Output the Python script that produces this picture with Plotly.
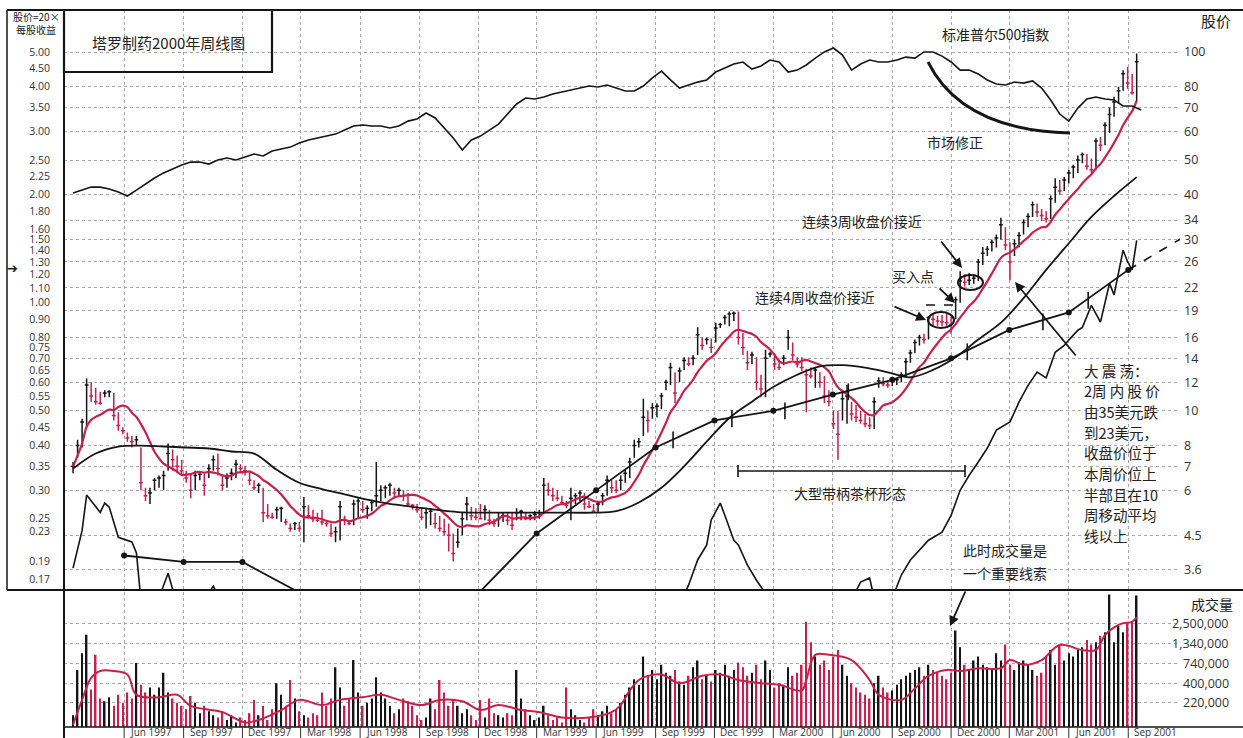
import plotly.graph_objects as go
import pandas as pd
import math

# ---------------- data ----------------
week0 = "1997-03-14"  # first weekly bar

closes = [7.0, 8.0, 9.3, 11.8, 11.0, 10.6, 10.5, 11.2, 11.3, 9.7,
          9.1, 8.8, 8.4, 8.2, 8.3, 6.3, 5.8, 5.9, 6.4, 6.5,
          6.6, 7.6, 7.3, 7.0, 6.8, 6.5, 6.0, 6.6, 6.65, 6.2,
          6.9, 7.3, 6.9, 6.2, 6.5, 6.7, 7.1, 6.9, 6.8, 6.4,
          6.1, 6.2, 5.2, 5.1, 5.05, 5.3, 5.35, 4.9, 4.7, 4.85,
          4.7, 5.4, 5.1, 5.0, 4.95, 4.9, 4.85, 4.55, 4.6, 5.4,
          4.95, 4.85, 5.5, 5.6, 5.3, 5.35, 5.55, 5.8, 6.0, 6.1,
          6.2, 5.9, 6.0, 5.8, 5.5, 5.45, 5.3, 5.05, 5.2, 5.25,
          4.85, 4.7, 4.6, 4.5, 4.0, 4.3, 5.0, 5.5, 5.1, 5.05,
          5.0, 5.3, 4.95, 4.85, 5.0, 5.1, 4.95, 4.8, 5.2, 5.25,
          5.0, 5.1, 5.15, 5.2, 6.2, 6.0, 5.8, 5.7, 5.55, 5.45,
          5.7, 5.8, 5.9, 5.5, 5.4, 5.25, 5.5, 5.8, 6.4, 6.1,
          6.0, 6.4, 6.7, 7.2, 8.0, 8.2, 9.6, 9.4, 10.2, 10.3,
          11.0, 12.0, 13.2, 11.2, 12.9, 13.8, 13.5, 14.0, 16.3, 15.2,
          15.8, 15.0, 17.0, 17.4, 18.2, 18.6, 18.7, 16.0, 15.0, 13.6,
          14.3, 12.0, 11.5, 14.0, 14.4, 13.5, 13.2, 14.0, 16.0, 14.3,
          13.5, 13.2, 12.6, 12.5, 13.0, 12.0, 11.0, 10.6, 9.2, 8.6,
          10.8, 11.0, 9.8, 9.6, 9.4, 9.2, 9.1, 10.6, 12.1, 11.9,
          11.8, 12.1, 12.2, 12.6, 13.7, 14.5, 15.5, 16.0, 15.8, 18.2,
          18.0, 17.8, 17.7, 17.6, 17.4, 20.4, 23.0, 22.8, 23.1, 23.4,
          26.0, 27.5, 28.2, 29.5, 30.3, 33.0, 29.0, 26.0, 29.2, 30.8,
          33.5, 34.8, 37.5, 35.8, 35.0, 34.3, 39.0, 42.0, 41.0, 44.0,
          46.0, 47.8, 50.0, 51.8, 48.0, 47.0, 56.5, 55.0, 62.5, 67.0,
          72.5, 78.0, 87.0, 82.0, 77.0, 94.0]

highs = [7.2, 8.3, 9.5, 12.3, 12.0, 11.6, 11.3, 11.4, 11.4, 11.2,
         9.9, 9.0, 8.7, 8.5, 8.5, 7.9, 6.1, 6.1, 6.5, 6.6,
         6.8, 8.1, 7.8, 7.5, 7.3, 6.8, 6.7, 6.8, 6.7, 6.7,
         7.1, 7.5, 7.6, 6.6, 6.7, 6.9, 7.3, 7.1, 7.0, 6.8,
         6.4, 6.3, 6.1, 5.5, 5.2, 5.4, 5.4, 5.0, 4.85, 4.9,
         4.9, 5.75, 5.45, 5.3, 5.2, 5.3, 4.95, 4.85, 4.75, 5.6,
         5.1, 4.95, 5.65, 5.75, 5.6, 5.45, 5.65, 7.2, 6.2, 6.2,
         6.3, 6.1, 6.1, 6.0, 5.9, 5.5, 5.5, 5.35, 5.35, 5.35,
         5.2, 5.1, 5.0, 4.85, 4.55, 4.7, 5.2, 5.75, 5.4, 5.35,
         5.5, 5.45, 5.3, 5.0, 5.2, 5.2, 5.2, 5.2, 5.35, 5.3,
         5.2, 5.15, 5.25, 5.3, 6.5, 6.3, 6.1, 6.0, 5.8, 5.6,
         6.1, 5.9, 6.0, 5.9, 5.6, 5.5, 5.6, 5.9, 6.6, 6.4,
         6.4, 6.6, 6.85, 7.4, 8.3, 8.4, 10.8, 10.0, 10.5, 10.5,
         11.2, 12.2, 13.6, 12.8, 13.2, 14.1, 14.1, 14.3, 17.1, 16.0,
         16.0, 15.9, 17.6, 17.6, 18.5, 18.9, 18.9, 18.9, 16.5, 14.7,
         14.6, 14.1, 12.6, 14.8, 14.6, 14.5, 13.9, 14.3, 16.8, 15.5,
         14.1, 14.1, 13.1, 13.2, 13.2, 12.8, 12.5, 11.4, 10.0, 10.0,
         11.4, 11.8, 10.6, 10.4, 10.0, 9.8, 9.6, 10.9, 12.4, 12.4,
         12.1, 12.3, 12.3, 12.8, 14.0, 14.8, 15.8, 16.3, 16.4, 18.3,
         18.7, 18.4, 18.5, 18.6, 18.3, 20.8, 24.5, 24.0, 24.2, 24.0,
         26.5, 28.6, 28.8, 30.0, 31.0, 34.5, 32.5, 29.5, 30.0, 31.5,
         34.2, 35.5, 38.3, 37.8, 36.5, 36.0, 39.8, 44.5, 44.0, 44.8,
         47.0, 48.5, 51.5, 52.5, 52.0, 50.5, 57.5, 58.0, 63.7, 70.0,
         75.0, 80.0, 89.0, 91.0, 87.0, 99.0]

lows = [6.7, 7.4, 7.9, 9.0, 10.6, 10.4, 10.4, 10.9, 10.9, 9.4,
        8.8, 8.6, 8.2, 7.9, 8.0, 6.0, 5.6, 5.5, 6.0, 6.1,
        6.0, 6.8, 6.8, 6.7, 6.6, 6.3, 5.7, 6.0, 6.4, 5.8,
        6.5, 6.8, 6.6, 6.0, 6.1, 6.4, 6.5, 6.7, 6.6, 6.2,
        6.0, 5.9, 4.9, 5.0, 5.0, 5.0, 4.9, 4.8, 4.6, 4.65,
        4.6, 4.3, 5.0, 4.9, 4.9, 4.8, 4.75, 4.45, 4.3, 4.35,
        4.8, 4.8, 4.8, 5.0, 5.2, 5.0, 5.25, 5.4, 5.6, 5.7,
        5.8, 5.7, 5.8, 5.6, 5.4, 5.3, 5.2, 4.95, 4.7, 4.8,
        4.7, 4.6, 4.5, 4.05, 3.8, 4.15, 4.5, 4.95, 4.95, 4.95,
        5.0, 4.95, 4.8, 4.75, 4.75, 4.9, 4.8, 4.65, 4.95, 4.95,
        4.95, 4.95, 4.95, 5.0, 5.2, 5.8, 5.6, 5.6, 5.5, 5.35,
        4.95, 5.5, 5.6, 5.3, 5.35, 5.2, 5.2, 5.45, 5.8, 5.9,
        5.9, 6.0, 6.3, 6.5, 7.4, 7.9, 8.5, 8.7, 9.5, 9.6,
        10.1, 11.4, 11.8, 10.5, 12.0, 13.0, 13.3, 13.4, 14.3, 14.8,
        15.3, 14.5, 15.5, 17.0, 17.4, 17.2, 17.8, 15.3, 14.3, 13.0,
        13.5, 11.4, 10.9, 10.9, 14.1, 13.0, 13.0, 13.4, 14.8, 13.8,
        13.2, 12.9, 9.9, 12.3, 11.6, 11.6, 10.5, 10.3, 8.9, 7.3,
        9.4, 9.2, 9.4, 9.3, 9.2, 9.0, 8.9, 8.9, 11.6, 11.7,
        11.6, 11.7, 11.8, 12.0, 12.4, 13.6, 14.5, 15.2, 15.4, 15.8,
        17.3, 17.2, 17.2, 17.0, 16.4, 18.0, 20.0, 22.2, 22.4, 22.6,
        23.0, 25.5, 27.0, 27.8, 28.5, 30.0, 28.0, 23.1, 27.0, 28.5,
        31.0, 32.5, 34.7, 34.7, 33.8, 33.5, 34.2, 38.0, 40.0, 41.0,
        43.0, 44.5, 46.0, 49.0, 47.0, 46.0, 47.0, 53.0, 55.0, 59.5,
        66.0, 72.0, 78.0, 79.0, 76.0, 73.0]

volume_k = [150, 600, 1000, 1750, 330, 950, 250, 230, 260, 200,
            280, 220, 300, 250, 740, 380, 300, 350, 280, 350,
            550, 300, 250, 220, 200, 180, 270, 220, 160, 200,
            170, 150, 140, 170, 130, 150, 120, 140, 130, 160,
            240, 150, 200, 130, 180, 400, 280, 200, 440, 250,
            170, 150, 140, 160, 150, 300, 200, 250, 650, 350,
            200, 250, 810, 300, 200, 220, 250, 480, 300, 250,
            200, 160, 180, 250, 230, 200, 150, 130, 140, 250,
            180, 440, 300, 200, 240, 200, 160, 180, 150, 130,
            240, 140, 250, 160, 150, 140, 160, 150, 600, 250,
            180, 150, 130, 140, 200, 150, 130, 140, 120, 350,
            180, 150, 130, 120, 140, 180, 150, 170, 200, 160,
            180, 220, 280, 350, 450, 380, 900, 500, 600, 450,
            700, 550, 500, 600, 420, 380, 500, 650, 800, 450,
            500, 420, 600, 550, 700, 500, 600, 750, 650, 500,
            550, 700, 450, 800, 600, 350, 400, 380, 650, 500,
            550, 700, 2600, 1400, 900, 700, 800, 600, 900, 1100,
            700, 500, 400, 350, 300, 280, 250, 400, 500, 350,
            300, 320, 380, 450, 500, 550, 600, 650, 500, 700,
            600, 550, 500, 450, 550, 2000, 1200, 700, 600, 800,
            900, 700, 650, 600, 1000, 800, 1300, 700, 600, 750,
            800, 700, 600, 500, 550, 900, 1100, 700, 1300, 800,
            1000, 900, 1100, 1200, 1500, 1300, 1400, 1700, 1900, 6000,
            1400, 2300, 1900, 2500, 2600, 5800]

# long (40-week) moving average, read every 5 weeks
ma_long_every5 = [6.9, 7.6, 7.95, 8.0, 7.95, 7.9, 7.85, 7.7, 7.6, 6.85,
                  6.3, 6.05, 5.85, 5.65, 5.5, 5.4, 5.3, 5.22, 5.2, 5.2,
                  5.2, 5.2, 5.2, 5.2, 5.25, 5.55, 6.1, 7.0, 8.2, 9.55,
                  10.6, 11.7, 12.6, 13.3, 13.4, 13.2, 12.8, 12.4, 13.0, 14.1,
                  15.8, 17.6, 20.6, 24.7, 29.3, 34.7, 39.7, 44.8]

# S&P 500 index, read every 2 weeks
sp500 = [790, 805, 820, 820, 810, 795, 775, 805, 836, 866,
         892, 912, 932, 947, 947, 937, 958, 968, 958, 973,
         988, 978, 1003, 1013, 1023, 1044, 1059, 1069, 1079, 1089,
         1110, 1130, 1135, 1130, 1130, 1120, 1130, 1155, 1166, 1196,
         1171, 1120, 1069, 1008, 1059, 1079, 1110, 1140, 1191, 1242,
         1272, 1267, 1277, 1293, 1303, 1313, 1323, 1333, 1328, 1338,
         1323, 1308, 1308, 1333, 1374, 1409, 1364, 1323, 1338, 1353,
         1364, 1404, 1425, 1445, 1455, 1419, 1435, 1465, 1455, 1404,
         1414, 1440, 1475, 1506, 1526, 1490, 1414, 1445, 1465, 1455,
         1455, 1465, 1480, 1475, 1506, 1506, 1485, 1455, 1414, 1414,
         1394, 1364, 1343, 1338, 1353, 1348, 1359, 1323, 1262, 1191,
         1155, 1221, 1267, 1277, 1267, 1262, 1232, 1232, 1211]

# relative-strength line (week index, value)
rs_week = [0, 2, 3, 5, 6, 7, 8, 10, 12, 13, 14, 15, 18, 21, 23, 28, 31, 33,
           134, 136, 138, 140, 141, 143, 144, 146, 147, 149, 151, 154,
           172, 174, 176, 177, 181, 183, 185, 187, 189, 192, 194, 196, 198,
           200, 202, 204, 207, 209, 211, 213, 215, 217, 219, 220, 222, 223,
           225, 227, 229, 230, 232, 233, 234, 235]
rs_val = [3.8, 10.3, 16.4, 14.3, 13.4, 15.0, 14.3, 9.1, 8.6, 8.3, 6.4, -1.7, -3.4, 2.9, -2.6, -2.6, 0.7, -2.6,
          -2.6, 0.9, 5.2, 7.8, 12.1, 15.0, 12.9, 8.6, 7.8, 4.3, 1.7, -1.7,
          -1.7, 1.4, 2.1, -1.4, -1.4, 2.6, 5.2, 6.9, 8.6, 10.0, 12.9, 17.2, 19.8,
          22.1, 24.5, 27.6, 29.0, 32.4, 35.3, 37.6, 36.6, 41.0, 42.2, 43.1, 44.8, 45.3,
          49.1, 46.2, 52.9, 50.9, 58.6, 56.6, 55.2, 60.3]

# volume moving average (week index, thousands)
vma_week = [0, 2, 4, 6, 9, 12, 14, 19, 23, 26, 33, 38, 41, 46, 50, 55, 59, 64, 68, 72,
            77, 81, 86, 90, 94, 99, 103, 108, 114, 119, 121, 123, 125, 127, 130, 134,
            139, 143, 147, 152, 156, 161, 162, 164, 167, 172, 176, 178, 183, 186, 189,
            193, 196, 200, 205, 207, 210, 214, 218, 223, 226, 228, 230, 232, 234, 235]
vma_val = [112, 240, 470, 580, 580, 520, 280, 260, 280, 200, 165, 120, 130, 176, 240, 205, 240, 260, 280, 240,
           205, 240, 230, 176, 205, 176, 165, 140, 140, 165, 205, 320, 440, 500, 520, 400,
           500, 520, 440, 400, 380, 320, 440, 950, 950, 810, 440, 280, 240, 340, 500,
           600, 580, 630, 630, 810, 700, 810, 1280, 1100, 1100, 1740, 2200, 2500, 2600, 3000]

# earnings line (price = 20 x EPS), quarterly
eps_dates = ["1997-06-01", "1997-09-01", "1997-12-01", "1998-03-01", "1998-06-01", "1998-09-01",
             "1998-12-01", "1999-03-01", "1999-06-01", "1999-09-01", "1999-12-01", "2000-03-01",
             "2000-06-01", "2000-09-01", "2000-12-01", "2001-03-01", "2001-06-01", "2001-09-01"]
eps_vals = [3.95, 3.79, 3.79, 3.1, 2.6, 2.6, 3.1, 4.55, 6.0, 7.9, 9.4, 10.0, 11.1, 12.2, 14.0, 16.8, 18.8, 24.7]
eps_proj_dates = ["2001-09-01", "2001-12-01"]
eps_proj_vals = [24.7, 30.9]
eps_tick_dates = ["1999-09-28", "1999-12-28", "2000-03-19", "2000-06-25", "2000-12-26", "2001-04-22", "2001-07-01"]
eps_tick_vals = [8.3, 9.5, 10.0, 11.3, 14.6, 17.7, 20.3]

quarter_dates = ["1997-06-01", "1997-09-01", "1997-12-01", "1998-03-01", "1998-06-01", "1998-09-01",
                 "1998-12-01", "1999-03-01", "1999-06-01", "1999-09-01", "1999-12-01", "2000-03-01",
                 "2000-06-01", "2000-09-01", "2000-12-01", "2001-03-01", "2001-06-01", "2001-09-01"]
quarter_labels = ["Jun 1997", "Sep 1997", "Dec 1997", "Mar 1998", "Jun 1998", "Sep 1998",
                  "Dec 1998", "Mar 1999", "Jun 1999", "Sep 1999", "Dec 1999", "Mar 2000",
                  "Jun 2000", "Sep 2000", "Dec 2000", "Mar 2001", "Jun 2001", "Sep 2001"]

price_ticks = [100, 80, 70, 60, 50, 40, 34, 30, 26, 22, 19, 16, 14, 12, 10, 8, 7, 6, 4.5, 3.6]
price_tick_text = ["100", "80", "70", "60", "50", "40", "34", "30", "26", "22", "19", "16", "14",
                   "12", "10", "8", "7", "6", "4.5", "3.6"]
eps_tick_text = ["5.00", "4.50", "4.00", "3.50", "3.00", "2.50", "2.25", "2.00", "1.80", "1.60", "1.50",
                 "1.40", "1.30", "1.20", "1.10", "1.00", "0.90", "0.80", "0.75", "0.70", "0.65", "0.60",
                 "0.55", "0.50", "0.45", "0.40", "0.35", "0.30", "0.25", "0.23", "0.19", "0.17"]
vol_ticks = [2500000, 1340000, 740000, 400000, 220000]
vol_tick_text = ["2,500,000", "1,340,000", "740,000", "400,000", "220,000"]

# ---------------- derived ----------------
n = len(closes)
start = pd.Timestamp(week0)
dates = [start + pd.Timedelta(weeks=i) for i in range(n)]
up = [True] + [closes[i] >= closes[i - 1] for i in range(1, n)]
ma10 = pd.Series(closes).rolling(10, min_periods=1).mean()

RED = "#c8204c"
BLK = "#151515"
GRID = "#a8a8a8"

fig = go.Figure()

def bars(idx, color):
    return go.Ohlc(x=[dates[i] for i in idx], open=[closes[i] for i in idx],
                   high=[highs[i] for i in idx], low=[lows[i] for i in idx],
                   close=[closes[i] for i in idx],
                   increasing=dict(line=dict(color=color, width=1.5)),
                   decreasing=dict(line=dict(color=color, width=1.5)),
                   tickwidth=0.42, xaxis="x", yaxis="y", hoverinfo="skip")

up_idx = [i for i in range(n) if up[i]]
dn_idx = [i for i in range(n) if not up[i]]
fig.add_trace(bars(up_idx, BLK))
fig.add_trace(bars(dn_idx, RED))

fig.add_trace(go.Scatter(x=dates, y=ma10, mode="lines", line=dict(color=RED, width=2.2, shape="spline"),
                         xaxis="x", yaxis="y", hoverinfo="skip"))
fig.add_trace(go.Scatter(x=dates[::5], y=ma_long_every5, mode="lines",
                         line=dict(color=BLK, width=1.8, shape="spline", smoothing=1.0),
                         xaxis="x", yaxis="y", hoverinfo="skip"))
# EPS line on the left-labelled axis
fig.add_trace(go.Scatter(x=eps_dates, y=eps_vals, mode="lines+markers",
                         line=dict(color=BLK, width=1.8), marker=dict(size=6, color=BLK),
                         xaxis="x", yaxis="y2", hoverinfo="skip", cliponaxis=True))
fig.add_trace(go.Scatter(x=eps_proj_dates, y=eps_proj_vals, mode="lines",
                         line=dict(color=BLK, width=1.6, dash="dash"),
                         xaxis="x", yaxis="y2", hoverinfo="skip"))
fig.add_trace(go.Scatter(x=eps_tick_dates, y=eps_tick_vals, mode="markers",
                         marker=dict(symbol="line-ns", size=12, line=dict(color=BLK, width=1.6)),
                         xaxis="x", yaxis="y2", hoverinfo="skip"))
# S&P 500
sp_dates = [start + pd.Timedelta(weeks=2 * j) for j in range(len(sp500))]
fig.add_trace(go.Scatter(x=sp_dates, y=sp500, mode="lines", line=dict(color=BLK, width=1.6),
                         xaxis="x", yaxis="y3", hoverinfo="skip"))
# relative strength
rs_dates = [start + pd.Timedelta(weeks=w) for w in rs_week]
fig.add_trace(go.Scatter(x=rs_dates, y=rs_val, mode="lines", line=dict(color=BLK, width=1.6),
                         xaxis="x", yaxis="y4", hoverinfo="skip"))
# volume
fig.add_trace(go.Bar(x=dates, y=[v * 1000 for v in volume_k],
                     marker=dict(color=[BLK if u else RED for u in up], line=dict(width=0)),
                     width=2.4 * 86400000, xaxis="x2", yaxis="y5", hoverinfo="skip"))
vma_dates = [start + pd.Timedelta(weeks=w) for w in vma_week]
fig.add_trace(go.Scatter(x=vma_dates, y=[v * 1000 for v in vma_val], mode="lines",
                         line=dict(color=RED, width=2, shape="spline"),
                         xaxis="x2", yaxis="y5", hoverinfo="skip"))

# ---------------- layout ----------------
W, H = 1243, 738
L, R, T, B = 64, 63, 10, 11
PW, PH = W - L - R, H - T - B

def P(xp, yp):
    return (xp - L) / PW, (H - B - yp) / PH

main_range = [0.5033, 2.1171]
xgrid = dict(type="date", range=["1997-02-28", "2001-11-20"], tickvals=quarter_dates,
             showticklabels=False, showgrid=True, gridcolor=GRID, griddash="dot", gridwidth=1,
             zeroline=False, showline=False, ticks="", rangeslider=dict(visible=False))

fig.update_layout(
    width=W, height=H, margin=dict(l=L, r=R, t=T, b=B),
    paper_bgcolor="white", plot_bgcolor="white", showlegend=False,
    font=dict(family="Open Sans, Noto Sans CJK SC", color="#222"),
    xaxis=dict(xgrid, domain=[0, 1], anchor="y"),
    xaxis2=dict(xgrid, domain=[0, 1], anchor="y5", matches="x"),
    yaxis=dict(type="log", range=main_range, domain=[0.1925, 1], side="right", anchor="x",
               tickvals=price_ticks, ticktext=price_tick_text, showgrid=True, gridcolor=GRID,
               griddash="dot", zeroline=False, showline=False, ticks="", ticklabelstandoff=3,
               tickfont=dict(size=12.5, color="#333")),
    yaxis2=dict(type="log", range=main_range, overlaying="y", side="left", anchor="x",
                tickvals=[float(t) * 20 for t in eps_tick_text], ticktext=eps_tick_text,
                showgrid=False, zeroline=False, showline=False, ticks="", ticklabelstandoff=13,
                tickfont=dict(size=10.5, color="#333")),
    yaxis3=dict(range=[-1220, 1719], overlaying="y", visible=False),
    yaxis4=dict(range=[0.2, 100], overlaying="y", visible=False),
    yaxis5=dict(type="log", range=[5.0205, 6.8086], domain=[0, 0.188], anchor="x2", side="right",
                tickvals=vol_ticks, showticklabels=False, showgrid=True, gridcolor=GRID,
                griddash="dot", zeroline=False, showline=False, ticks=""),
)

shapes = []
def pline(x0, y0, x1, y1, w=2, dash="solid"):
    a, b = P(x0, y0)
    c, d = P(x1, y1)
    shapes.append(dict(type="line", xref="paper", yref="paper", x0=a, y0=b, x1=c, y1=d,
                       line=dict(color=BLK, width=w, dash=dash)))

def prect(x0, y0, x1, y1, w=2, kind="rect"):
    a, b = P(x0, y0)
    c, d = P(x1, y1)
    shapes.append(dict(type=kind, xref="paper", yref="paper", x0=a, y0=b, x1=c, y1=d,
                       line=dict(color=BLK, width=w)))

# frame
pline(7, 10, 1243, 10, 2)
pline(7, 590, 1243, 590, 2.2)
pline(64, 727, 1243, 727, 1.5)
pline(64, 10, 64, 738, 2)
pline(7, 10, 7, 590, 1.5)
prect(64, 10, 272, 72, 2.2)
# quarter separators in label row
for q in quarter_dates:
    shapes.append(dict(type="line", xref="x", yref="paper", x0=q, x1=q, y0=-B / PH, y1=0,
                       line=dict(color="#333", width=1)))
# ellipses and handle pivot line
prect(928, 312, 954, 328, 2, "circle")
prect(958, 275, 983, 290, 2, "circle")
pline(926, 305, 958, 305, 1.6, "dash")
# cup-with-handle bracket
pline(738, 471, 965, 471, 1.6)
pline(738, 465, 738, 477, 1.6)
pline(965, 465, 965, 477, 1.6)
# market correction arc
pts = [(928, 62), (948, 102), (990, 131), (1070, 133)]
pp = [P(*q) for q in pts]
path = "M {},{} C {},{} {},{} {},{}".format(pp[0][0], pp[0][1], pp[1][0], pp[1][1],
                                            pp[2][0], pp[2][1], pp[3][0], pp[3][1])
shapes.append(dict(type="path", xref="paper", yref="paper", path=path, line=dict(color=BLK, width=2.8)))
fig.update_layout(shapes=shapes)

ann = []
CJK = "Noto Sans CJK SC"
def text(xp, yp, s, size=14, anchor="center", fam=CJK):
    a, b = P(xp, yp)
    ann.append(dict(xref="paper", yref="paper", x=a, y=b, text=s, showarrow=False,
                    xanchor=anchor, yanchor="middle", font=dict(family=fam, size=size, color="#222")))

def arrow(tx, ty, hx, hy):
    a, b = P(hx, hy)
    ann.append(dict(xref="paper", yref="paper", x=a, y=b, ax=tx - hx, ay=ty - hy,
                    axref="pixel", ayref="pixel", text="", showarrow=True, arrowhead=2,
                    arrowsize=1.1, arrowwidth=1.8, arrowcolor=BLK, standoff=0))

text(168, 42, "塔罗制药2000年周线图", 15)
text(36, 17, "股价=20×", 10)
text(36, 29, "每股收益", 10)
text(12, 268, "➔", 13, fam="DejaVu Sans")
text(1216, 20, "股价", 15)
text(1212, 604, "成交量", 14)
text(995, 34, "标准普尔500指数", 14)
text(955, 142, "市场修正", 14)
text(862, 221, "连续3周收盘价接近", 14)
text(913, 276, "买入点", 14)
text(815, 297, "连续4周收盘价接近", 14)
text(850, 493, "大型带柄茶杯形态", 14)
text(1005, 550, "此时成交量是", 14)
text(1005, 573, "一个重要线索", 14)
lines = ["大 震 荡：", "2周 内 股 价", "由35美元跌", "到23美元，", "收盘价位于",
         "本周价位上", "半部且在10", "周移动平均", "线以上"]
for i, s in enumerate(lines):
    text(1082, 370 + i * 20.7, s, 14.5, anchor="left")

arrow(893, 306, 926, 320)
arrow(938, 287, 955, 303)
arrow(940, 240, 962, 268)
arrow(1077, 357, 1015, 282)
arrow(966, 590, 950, 626)

for q, lab in zip(quarter_dates, quarter_labels):
    ann.append(dict(xref="x", yref="paper", x=q, y=-5.0 / PH, text=lab, showarrow=False,
                    xanchor="left", yanchor="middle", xshift=4,
                    font=dict(family="Open Sans", size=10, color="#333")))
for v, s in zip(vol_ticks, vol_tick_text):
    ann.append(dict(xref="paper", yref="y5", x=(1231 - L) / PW, y=math.log10(v), text=s,
                    showarrow=False, xanchor="right", yanchor="middle",
                    font=dict(family="Open Sans", size=12.5, color="#333")))
fig.update_layout(annotations=ann)

fig.write_html("out.html", config={"displayModeBar": False},
               post_script="document.body.style.margin='0';document.body.style.padding='0';")
